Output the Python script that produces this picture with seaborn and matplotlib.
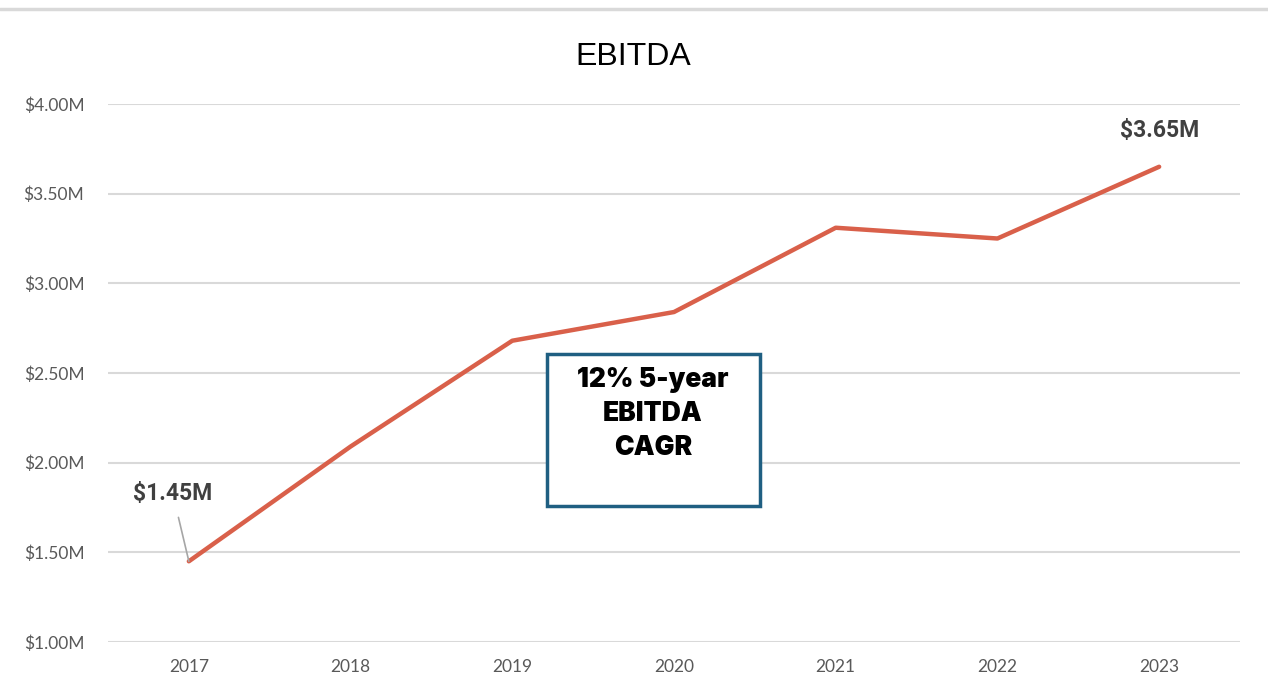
import matplotlib
matplotlib.use("Agg")
import matplotlib.pyplot as plt
import seaborn as sns
import pandas as pd
from matplotlib.lines import Line2D
from matplotlib.patches import Rectangle

years = ["2017", "2018", "2019", "2020", "2021", "2022", "2023"]
ebitda = [1.45, 2.09, 2.68, 2.84, 3.31, 3.25, 3.65]
yticks = [1.0, 1.5, 2.0, 2.5, 3.0, 3.5, 4.0]
ytick_labels = ["$1.00M", "$1.50M", "$2.00M", "$2.50M", "$3.00M", "$3.50M", "$4.00M"]
title = "EBITDA"
box_text = "12% 5-year\nEBITDA\nCAGR"

sns.set_theme(style="white")
plt.rcParams['font.family'] = ['Lato', 'DejaVu Sans']

df = pd.DataFrame({"year": years, "ebitda": ebitda})

fig = plt.figure(figsize=(12.68, 6.99), dpi=100)
ax = fig.add_axes([108/1268, 1-642/699, (1240-108)/1268, (642-104)/699])

sns.lineplot(data=df, x="year", y="ebitda", ax=ax, color="#d9604a", linewidth=3.2,
             solid_capstyle="round", sort=False)

ax.set_xlim(-0.5, 6.5)
ax.set_ylim(1.0, 4.0)
ax.set_yticks(yticks)
ax.set_yticklabels(ytick_labels)
ax.yaxis.grid(True, color="#d9d9d9", linewidth=1.5)
ax.xaxis.grid(False)
ax.set_axisbelow(True)
for s in ax.spines.values():
    s.set_visible(False)
ax.tick_params(axis="both", length=0, labelsize=12.5, labelcolor="#595959")
ax.tick_params(axis="y", pad=17)
ax.tick_params(axis="x", pad=12)
ax.set_xlabel("")
ax.set_ylabel("")

# title
fig.text(633/1268, 1-57/699, title, ha="center", va="center", fontsize=23,
         family=["Liberation Sans", "DejaVu Sans"], color="#000000")

# top border line
fig.add_artist(Line2D([0, 1], [1-9/699, 1-9/699], color="#d9d9d9", linewidth=2.5,
                      transform=fig.transFigure))

# data labels
lab_font = dict(fontsize=16.5, fontweight="bold", color="#404040",
                family=["Roboto", "DejaVu Sans"])
ax.annotate("$" + f"{ebitda[0]:.2f}M", xy=(0, ebitda[0]), xytext=(-0.1, 1.83),
            ha="center", va="center",
            arrowprops=dict(arrowstyle="-", color="#a6a6a6", lw=1.2,
                            shrinkA=7, shrinkB=0), **lab_font)
ax.text(6, 3.65 + 0.2, "$" + f"{ebitda[-1]:.2f}M", ha="center", va="center", **lab_font)

# CAGR box
box = Rectangle((547/1268, 1-506/699), (760-547)/1268, (506-354)/699,
                transform=fig.transFigure, facecolor="white", edgecolor="#1f5f82",
                linewidth=2.5, zorder=5)
fig.add_artist(box)
fig.text(653/1268, 1-414/699, box_text, ha="center", va="center", fontsize=19,
         fontweight="black", family=["Inter", "DejaVu Sans"], color="#000000",
         linespacing=1.38, multialignment="center", zorder=6)

fig.savefig("out.png", dpi=100)
